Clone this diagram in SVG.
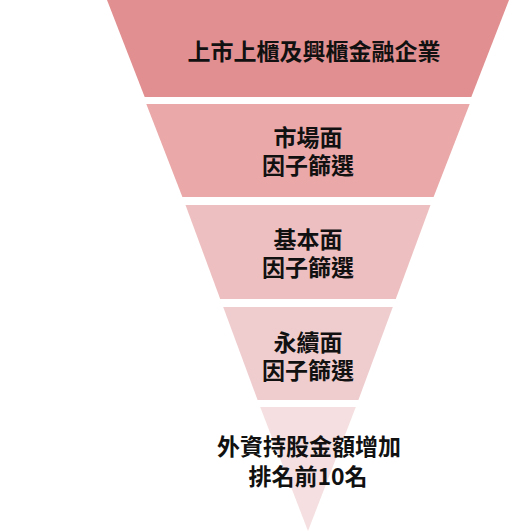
<svg xmlns="http://www.w3.org/2000/svg" width="509" height="531" viewBox="0 0 509 531">
<style>
  .lbl { font-family: "Noto Sans CJK TC", "Noto Sans CJK SC", sans-serif; font-weight: bold; font-size: 23px; fill: #111111; text-anchor: middle; }
</style>
<rect width="509" height="531" fill="#ffffff"/>
<g id="level1">
  <polygon points="107,0 509,0 471.3,97 144.7,97" fill="#E18F90"/>
  <text class="lbl" x="314" y="60">上市上櫃及興櫃金融企業</text>
</g>
<g id="level2">
  <polygon points="146.3,104 469.7,104 433.6,197 182.4,197" fill="#EAA8A9"/>
  <text class="lbl"><tspan x="308" y="146">市場面</tspan><tspan x="308" y="174">因子篩選</tspan></text>
</g>
<g id="level3">
  <polygon points="185.5,205 430.5,205 395.8,299 220.2,299" fill="#EEBFC0"/>
  <text class="lbl"><tspan x="308" y="248">基本面</tspan><tspan x="308" y="276">因子篩選</tspan></text>
</g>
<g id="level4">
  <polygon points="223.2,307 392.8,307 358.4,400 257.6,400" fill="#EFCDCF"/>
  <text class="lbl"><tspan x="308" y="351">永續面</tspan><tspan x="308" y="379">因子篩選</tspan></text>
</g>
<g id="level5">
  <polygon points="260.2,407 355.8,407 308,531" fill="#F5DFE0"/>
  <text class="lbl"><tspan x="309" y="455">外資持股金額增加</tspan><tspan x="308" y="485">排名前10名</tspan></text>
</g>
<g id="connectors"></g>
</svg>
